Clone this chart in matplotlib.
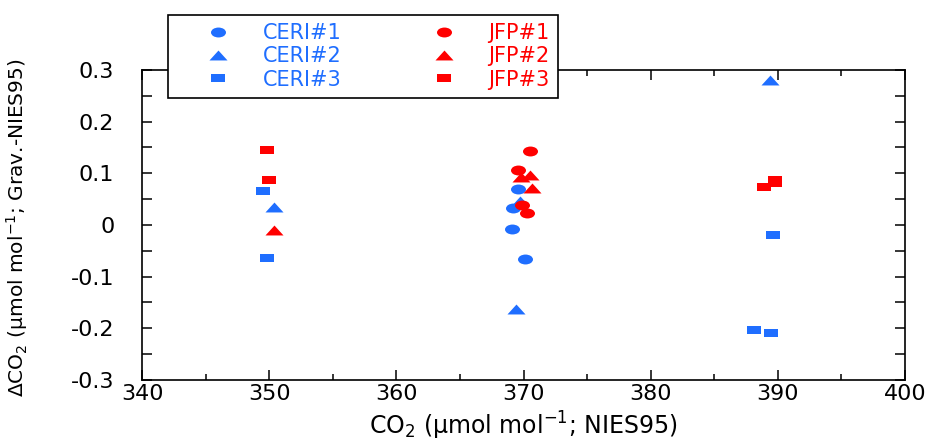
import numpy as np
import matplotlib
matplotlib.use("Agg")
import matplotlib.pyplot as plt
from matplotlib.path import Path
from matplotlib.ticker import MultipleLocator

# data
ceri1_x = [369.6, 369.2, 369.1, 370.1]
ceri1_y = [0.069, 0.033, -0.008, -0.065]
ceri2_x = [350.4, 369.7, 369.4, 389.4]
ceri2_y = [0.035, 0.046, -0.162, 0.281]
ceri3_x = [349.5, 349.8, 389.6, 388.1, 389.5]
ceri3_y = [0.065, -0.064, -0.019, -0.204, -0.210]
jfp1_x = [370.5, 369.6, 369.9, 370.3]
jfp1_y = [0.144, 0.106, 0.039, 0.023]
jfp2_x = [350.4, 370.5, 369.8, 370.7]
jfp2_y = [-0.010, 0.097, 0.093, 0.071]
jfp3_x = [349.8, 350.0, 388.9, 389.8, 389.8]
jfp3_y = [0.146, 0.088, 0.073, 0.087, 0.081]

xticks = [340, 350, 360, 370, 380, 390, 400]
yticks = [-0.3, -0.2, -0.1, 0, 0.1, 0.2, 0.3]
ytick_labels = ["-0.3", "-0.2", "-0.1", "0", "0.1", "0.2", "0.3"]

blue = "#1F6EFF"
red = "#FF0000"

# flattened markers (the original picture is stretched sideways)
rect = Path([(-1, -0.64), (1, -0.64), (1, 0.64), (-1, 0.64), (-1, -0.64)],
            [Path.MOVETO, Path.LINETO, Path.LINETO, Path.LINETO, Path.CLOSEPOLY])
circ = Path(Path.unit_circle().vertices * np.array([1.0, 0.66]), Path.unit_circle().codes)
tri = Path([(-1, -0.55), (1, -0.55), (0, 0.55), (-1, -0.55)],
           [Path.MOVETO, Path.LINETO, Path.LINETO, Path.CLOSEPOLY])

plt.rcParams['font.family'] = ['DejaVu Sans']
plt.rcParams['mathtext.fontset'] = 'dejavusans'

fig = plt.figure(figsize=(9.32, 4.4), dpi=100)
ax = fig.add_axes([0.1524, 0.1364, 0.8186, 0.7045])

series = [
    (ceri1_x, ceri1_y, circ, 10.8, blue, "CERI#1"),
    (ceri2_x, ceri2_y, tri, 13.0, blue, "CERI#2"),
    (ceri3_x, ceri3_y, rect, 10.1, blue, "CERI#3"),
    (jfp1_x, jfp1_y, circ, 10.8, red, "JFP#1"),
    (jfp2_x, jfp2_y, tri, 13.0, red, "JFP#2"),
    (jfp3_x, jfp3_y, rect, 10.1, red, "JFP#3"),
]
handles = []
for xs, ys, mk, ms, col, lab in series:
    h, = ax.plot(xs, ys, ls='none', marker=mk, ms=ms, color=col,
                 mec=col, mew=0, label=lab)
    handles.append(h)

ax.set_xlim(340, 400)
ax.set_ylim(-0.3, 0.3)
ax.set_xticks(xticks)
ax.set_yticks(yticks)
ax.set_yticklabels(ytick_labels)
ax.xaxis.set_minor_locator(MultipleLocator(5))
ax.yaxis.set_minor_locator(MultipleLocator(0.05))
ax.tick_params(which='both', direction='in', top=True, right=True,
               width=1.1, labelsize=16)
ax.tick_params(which='major', length=7)
ax.tick_params(which='minor', length=4)
ax.tick_params(axis='y', which='minor', length=7)
ax.tick_params(axis='y', pad=20)
ax.tick_params(axis='x', pad=3)
for s in ax.spines.values():
    s.set_linewidth(1.2)

ax.set_xlabel("CO$_2$ (μmol mol$^{-1}$; NIES95)", fontsize=17)
ax.set_ylabel("ΔCO$_2$ (μmol mol$^{-1}$; Grav.-NIES95)", fontsize=14.5)
ax.xaxis.set_label_coords(0.5, -0.095)
ax.yaxis.set_label_coords(-0.147, 0.49)

leg = ax.legend(handles=handles, ncol=2, loc='upper left',
                bbox_to_anchor=(168 / 932, 1 - 15 / 440),
                bbox_transform=fig.transFigure, fontsize=15,
                frameon=True, fancybox=False, framealpha=1,
                edgecolor='black', borderpad=0.4, labelspacing=0.15,
                handlelength=4.0, handletextpad=0.15, columnspacing=2.9,
                borderaxespad=0)
leg.get_frame().set_linewidth(1.2)
for t, (_, _, _, _, col, _) in zip(leg.get_texts(), series):
    t.set_color(col)

fig.savefig("out.png", dpi=100)
